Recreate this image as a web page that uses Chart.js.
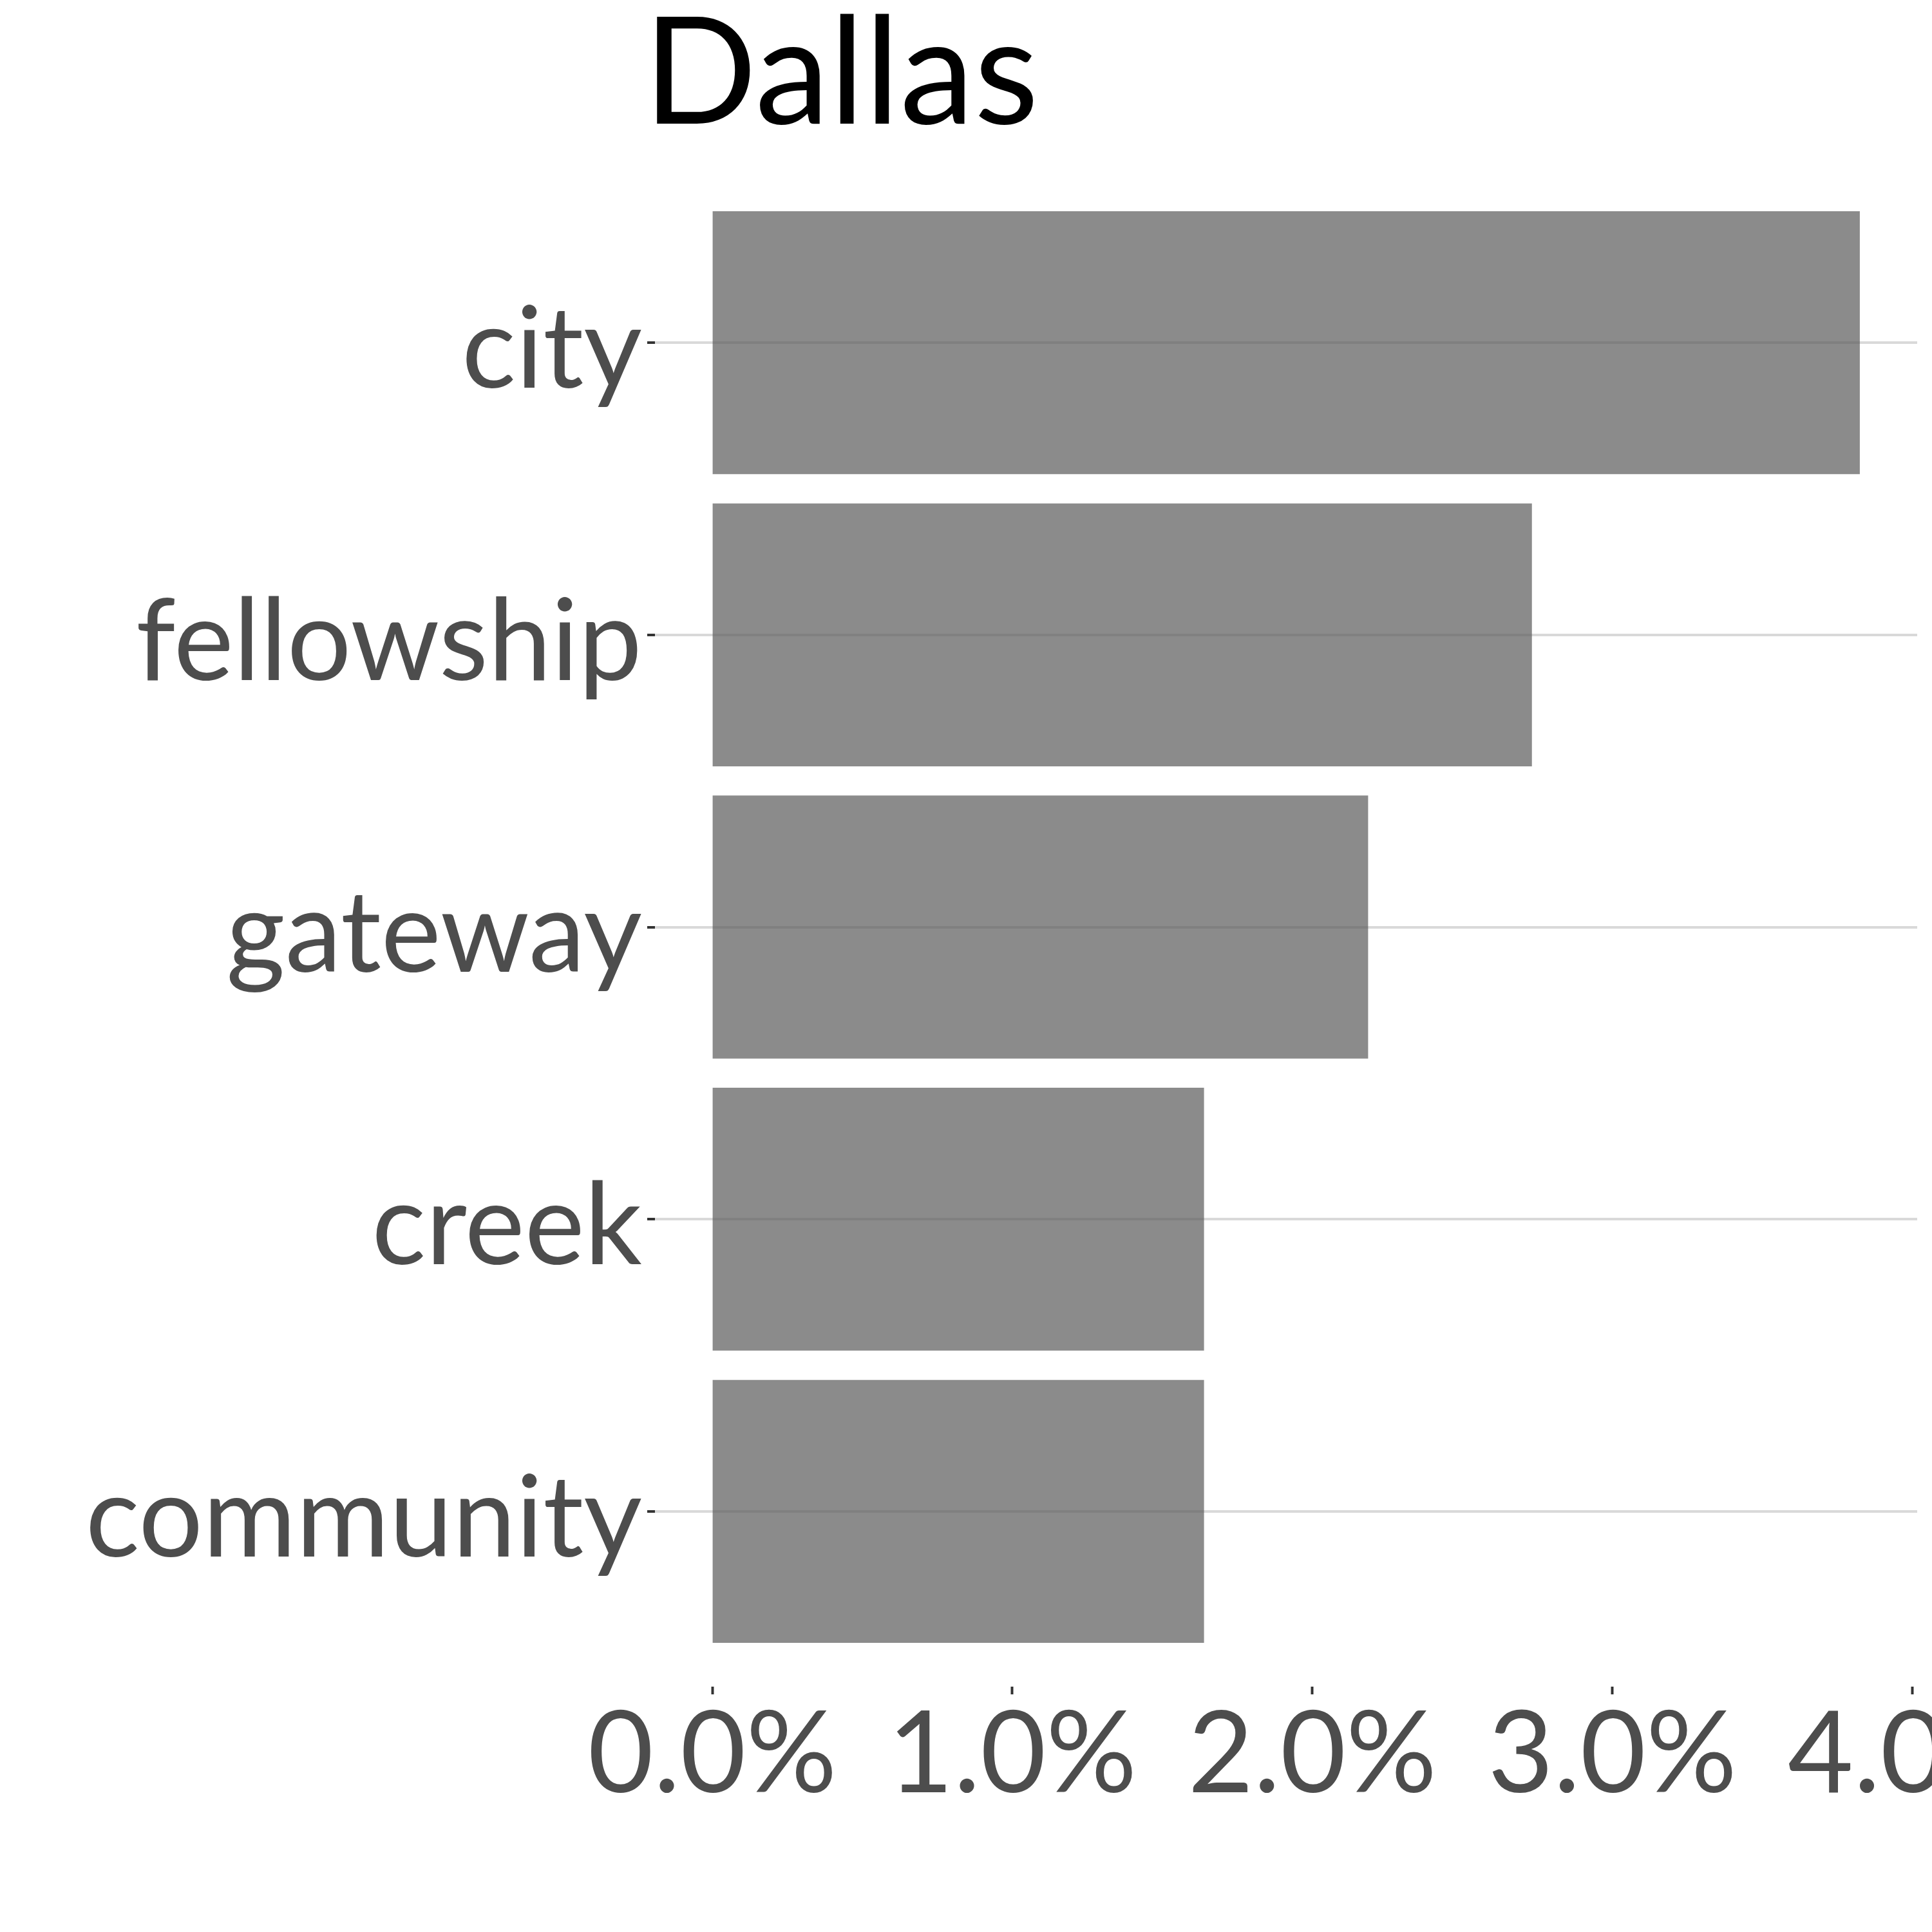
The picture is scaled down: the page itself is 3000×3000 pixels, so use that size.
<!DOCTYPE html>
<html><head><meta charset="utf-8">
<script src="https://cdn.jsdelivr.net/npm/chart.js@4/dist/chart.umd.min.js"></script>
<style>
html,body{margin:0;padding:0;background:#fff;overflow:hidden;width:3000px;height:3000px}
#wrap{position:absolute;left:0;top:0;width:3200px;height:3000px}
</style></head>
<body><div id="wrap"><canvas id="c" width="3200" height="3000"></canvas></div>
<script>
const chartTitle = 'Dallas';
const categories = ['city', 'fellowship', 'gateway', 'creek', 'community'];
const shares = [3.825, 2.732, 2.186, 1.639, 1.639];
const xTicks = [0, 1, 2, 3, 4];
const xTickLabels = ['0.0%', '1.0%', '2.0%', '3.0%', '4.0%'];

const FONT = 'Lato';
const labelColor = '#4d4d4d';

const titlePlugin = {
  id: 'leftTitle',
  afterDraw(chart) {
    const ctx = chart.ctx;
    ctx.save();
    ctx.font = '232px ' + FONT;
    ctx.fillStyle = '#000000';
    ctx.textAlign = 'left';
    ctx.textBaseline = 'alphabetic';
    ctx.fillText(chartTitle, chart.chartArea.left - 18, 192);
    ctx.restore();
  }
};

new Chart(document.getElementById('c'), {
  type: 'bar',
  data: {
    datasets: [{
      data: categories.map((c, i) => ({ x: shares[i], y: i })),
      backgroundColor: 'rgba(92,92,92,0.71)',
      borderWidth: 0,
      categoryPercentage: 1,
      barPercentage: 0.9
    }]
  },
  options: {
    indexAxis: 'y',
    responsive: false,
    animation: false,
    layout: { padding: { top: 260, right: 223, bottom: 0, left: 0 } },
    plugins: { legend: { display: false }, tooltip: { enabled: false }, title: { display: false } },
    scales: {
      x: {
        type: 'linear',
        offset: false,
        min: -0.19125,
        max: 4.01625,
        afterBuildTicks: s => { s.ticks = xTicks.map(v => ({ value: v })); },
        afterFit: s => { s.height = 381; },
        ticks: {
          callback: v => xTickLabels[xTicks.indexOf(v)],
          font: { family: FONT, size: 176 },
          color: labelColor,
          padding: -10,
          maxRotation: 0,
          autoSkip: false
        },
        grid: { offset: false, drawOnChartArea: false, drawTicks: true, tickLength: 12, tickColor: '#333333', tickWidth: 4 },
        border: { display: false }
      },
      y: {
        type: 'linear',
        offset: false,
        reverse: true,
        min: -0.6,
        max: 4.6,
        afterBuildTicks: s => { s.ticks = categories.map((c, i) => ({ value: i })); },
        afterFit: s => { s.width = 1017; },
        ticks: {
          callback: v => categories[v],
          font: { family: FONT, size: 176 },
          color: labelColor,
          padding: 8,
          labelOffset: 13,
          autoSkip: false
        },
        grid: { offset: false, color: '#d9d9d9', lineWidth: 4, tickColor: '#333333', tickWidth: 4, tickLength: 12 },
        border: { display: false }
      }
    }
  },
  plugins: [titlePlugin]
});
</script>
</body></html>
